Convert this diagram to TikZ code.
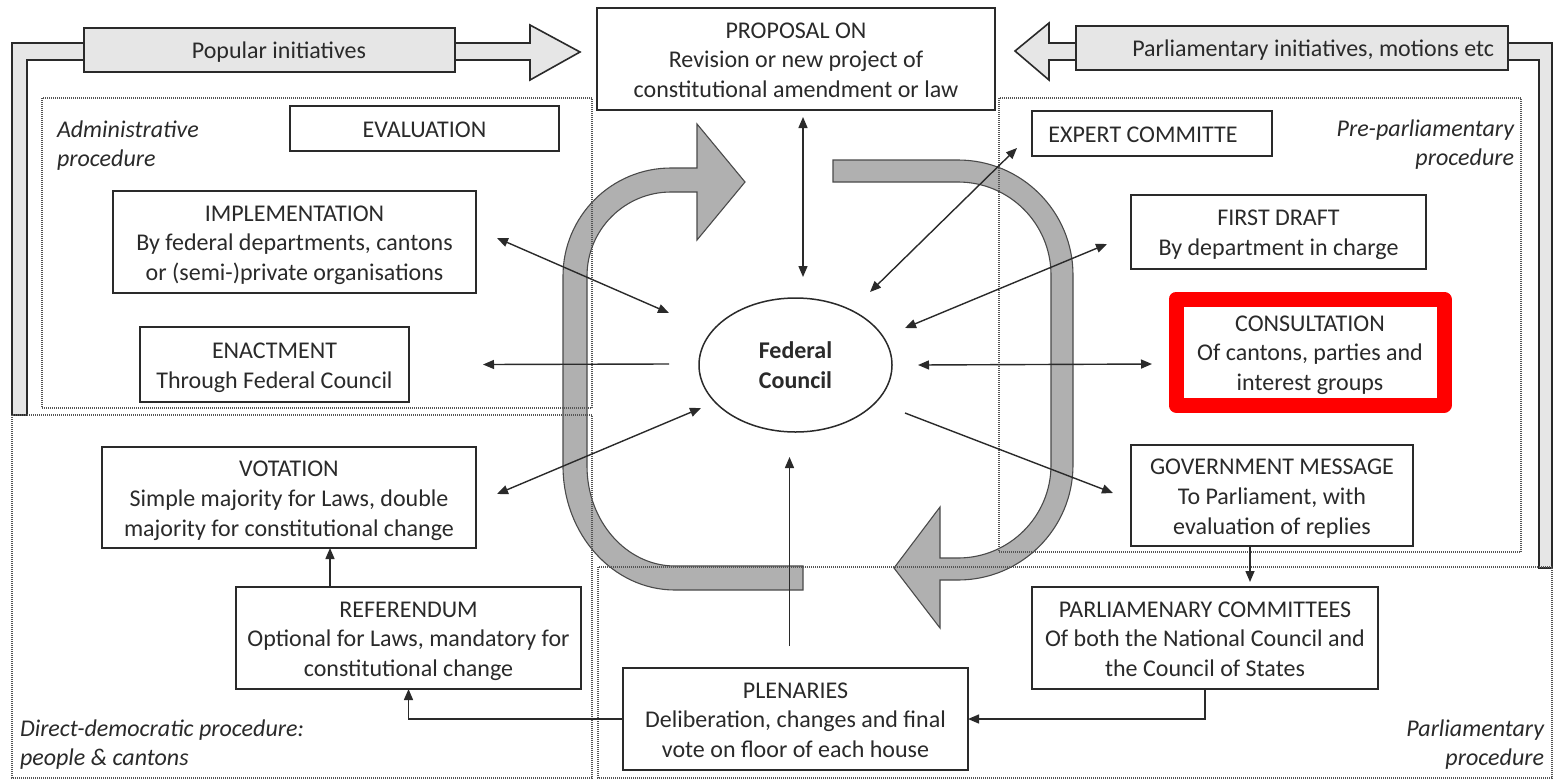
\documentclass[tikz,border=0pt]{standalone}
\usepackage{fontspec}
\setmainfont{Carlito}
\usetikzlibrary{arrows.meta,calc,shapes.geometric}
\definecolor{ink}{HTML}{2A2A2A}
\definecolor{band}{HTML}{B0B0B0}
\definecolor{lite}{HTML}{E6E6E6}
\definecolor{dotc}{HTML}{555555}
\newcommand\tstrut{\rule{0pt}{22pt}}
\begin{document}
\begin{tikzpicture}[x=1pt,y=-1pt,
  every node/.style={font=\fontsize{24}{29.8}\selectfont, text=ink},
  box/.style={draw=ink, line width=1.9pt, fill=white, inner sep=0pt, outer sep=0pt, align=center,
    execute at end node={\rule[-4.4pt]{0pt}{4.4pt}}},
  region/.style={draw=dotc, line width=1.1pt, dash pattern=on 1pt off 1pt},
  conn/.style={draw=ink, line width=1.4pt},
  tip/.style={-{Triangle[length=11pt,width=9pt]}},
  dtip/.style={{Triangle[length=11pt,width=9pt]}-{Triangle[length=11pt,width=9pt]}},
  bigarrow/.style={fill=band, draw=ink!85, line width=1.1pt},
  hollow/.style={fill=lite, draw=ink, line width=1.6pt},
  tag/.style={font=\fontsize{24}{29.8}\selectfont\itshape, inner sep=0pt, outer sep=0pt}
]
\useasboundingbox (0,0) rectangle (1553,780);
\fill[white] (0,0) rectangle (1553,780);

% big circular arrows
\filldraw[bigarrow] (803,590) -- (675,590) arc[start angle=90, end angle=180, x radius=112, y radius=124]
  -- (563,276) arc[start angle=180, end angle=270, radius=108] -- (697,168) -- (697,124) -- (745,182)
  -- (697,240) -- (697,192) -- (671,192) arc[start angle=270, end angle=180, radius=84]
  -- (587,466) arc[start angle=180, end angle=90, x radius=88, y radius=100] -- (803,566) -- cycle;
\filldraw[bigarrow] (833,160) -- (958,160) arc[start angle=270, end angle=360, radius=115]
  -- (1073,465) arc[start angle=0, end angle=90, radius=115] -- (940,580) -- (940,628) -- (894,568)
  -- (940,507) -- (940,558) -- (958,558) arc[start angle=90, end angle=0, radius=93]
  -- (1051,275) arc[start angle=360, end angle=270, radius=93] -- (833,182) -- cycle;

% hollow initiative arrows
\filldraw[hollow] (12,415) -- (12,43) -- (530,43) -- (530,25) -- (580,52) -- (530,80) -- (530,60) -- (27,60) -- (27,415) -- cycle;
\filldraw[hollow] (1539,568) -- (1539,60) -- (1049,60) -- (1049,80) -- (1015,51) -- (1049,23) -- (1049,43) -- (1552,43) -- (1552,568) -- cycle;
\node[box, fill=lite, line width=1.6pt, minimum width=371pt, minimum height=44pt] (popular) at (269.5,50) {\tstrut\hspace*{19pt}Popular initiatives};
\node[box, fill=lite, line width=1.6pt, minimum width=432pt, minimum height=44pt] (parlinit) at (1292,48) {\tstrut\makebox[404pt][r]{Parliamentary initiatives, motions etc}};

% regions
\draw[region] (42,98) rectangle (592,408);
\draw[region] (12,415) rectangle (592,778);
\draw[region] (999,98) rectangle (1521,552);
\draw[region] (598,567) rectangle (1552,778);

\node[tag, anchor=west, align=left] (tadmin) at (57,145.5) {Administrative\\procedure};
\node[tag, anchor=east, align=right] (tpre) at (1514,144.5) {Pre-parliamentary\\procedure};
\node[tag, anchor=west, align=left] (tdirect) at (20,744.5) {Direct-democratic procedure:\\people \& cantons};
\node[tag, anchor=east, align=right] (tparl) at (1544,744.5) {Parliamentary\\procedure};

% boxes
\node[box, minimum width=398pt, minimum height=102pt] (proposal) at (796,59) {\tstrut PROPOSAL ON\\Revision or new project of\\constitutional amendment or law};
\node[box, minimum width=269pt, minimum height=45pt] (eval) at (424.5,128.5) {\tstrut EVALUATION};
\node[box, minimum width=363pt, minimum height=102pt] (impl) at (294.5,242) {\tstrut IMPLEMENTATION\\By federal departments, cantons\\or (semi-)private organisations};
\node[box, minimum width=269pt, minimum height=75pt] (enact) at (274.5,364.5) {\tstrut ENACTMENT\\Through Federal Council};
\node[box, minimum width=374pt, minimum height=101pt] (vot) at (289,497.5) {\tstrut VOTATION\\Simple majority for Laws, double\\majority for constitutional change};
\node[box, minimum width=345pt, minimum height=102pt] (ref) at (408.5,638) {\tstrut REFERENDUM\\Optional for Laws, mandatory for\\constitutional change};
\node[box, minimum width=345pt, minimum height=102pt] (plen) at (795.5,719) {\tstrut PLENARIES\\Deliberation, changes and final\\vote on floor of each house};
\node[box, minimum width=346pt, minimum height=102pt] (pcom) at (1205,638) {\tstrut PARLIAMENARY COMMITTEES\\Of both the National Council and\\the Council of States};
\node[box, minimum width=282pt, minimum height=101pt] (gov) at (1272,495.5) {\tstrut GOVERNMENT MESSAGE\\To Parliament, with\\evaluation of replies};
\node[box, draw=red, line width=15pt, line join=round, minimum width=268pt, minimum height=106pt] (cons) at (1310,352) {\tstrut CONSULTATION\\Of cantons, parties and\\interest groups};
\node[box, minimum width=240pt, minimum height=45pt] (expert) at (1152,133.5) {\tstrut EXPERT COMMITTE\hspace*{18pt}};
\node[box, minimum width=295pt, minimum height=74pt] (draft) at (1278.5,232) {\tstrut FIRST DRAFT\\By department in charge};
\node[draw=ink, line width=1.5pt, ellipse, minimum width=193pt, minimum height=134pt, inner sep=0pt, outer sep=0pt, align=center, font=\fontsize{24}{29.8}\selectfont\bfseries, fill=white] (fc) at (795.5,365) {Federal\\Council};

% connectors
\draw[conn, dtip] ([shift={(7,7)}]proposal.south) -- ([shift={(7.5,-88)}]fc.center);
\draw[conn, dtip] ([shift={(21,-4)}]impl.east) -- ([shift={(-126.5,-52)}]fc.center);
\draw[conn, tip] ([shift={(-126.5,-1)}]fc.center) -- ([shift={(74,0)}]enact.east);
\draw[conn, dtip] ([shift={(21,-3.5)}]vot.east) -- ([shift={(-94.5,43)}]fc.center);
\draw[conn, dtip] ([shift={(-15,14.5)}]expert.west) -- ([shift={(74.5,-73)}]fc.center);
\draw[conn, dtip] ([shift={(-24,12)}]draft.west) -- ([shift={(109.5,-37)}]fc.center);
\draw[conn, dtip] ([shift={(-24,12)}]cons.west) -- ([shift={(122.5,0)}]fc.center);
\draw[conn, tip] ([shift={(109.5,48)}]fc.center) -- ([shift={(-18,-2.5)}]gov.west);
\draw[conn, tip] ([shift={(-6,-22)}]plen.north) -- ([shift={(-6,92)}]fc.center);
\draw[conn, tip] ([shift={(-22,0)}]gov.south) -- ([shift={(45,-5)}]pcom.north);
\draw[conn, tip] (pcom.south) |- (plen.east);
\draw[conn, tip] (plen.west) -| (ref.south);
\draw[conn, tip] ([shift={(-78.5,0)}]ref.north) -- ([shift={(41,0)}]vot.south);
\end{tikzpicture}
\end{document}
